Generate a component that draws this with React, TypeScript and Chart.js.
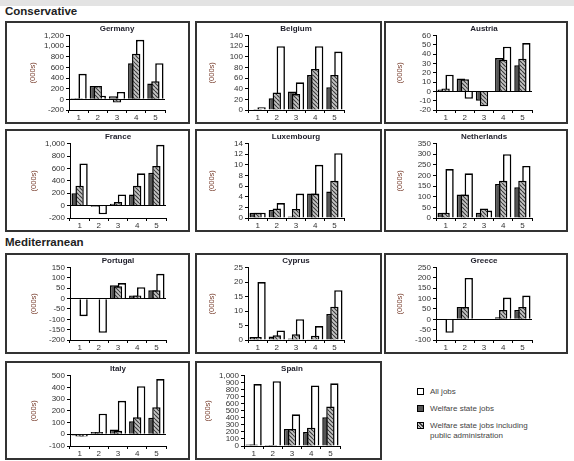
import React, { useEffect, useRef } from "react";
import { Chart, registerables } from "chart.js";
Chart.register(...registerables);

const FONT = "'Liberation Sans', Arial, Helvetica, sans-serif";

const categories = ["1", "2", "3", "4", "5"];

// Series order in each panel: welfare state jobs, welfare incl. public administration, all jobs
const germanyWelfare = [20, 250, 60, 680, 300];
const germanyPublic = [20, 250, -60, 860, 340];
const germanyAll = [480, 70, 140, 1120, 680];

const belgiumWelfare = [0, 22, 35, 66, 43];
const belgiumPublic = [2, 33, 30, 77, 66];
const belgiumAll = [5, 120, 52, 120, 110];

const austriaWelfare = [2, 14, -10, 36, 28];
const austriaPublic = [3, 13, -16, 34, 35];
const austriaAll = [18, -8, 0, 48, 52];

const franceWelfare = [200, -20, 30, 180, 530];
const francePublic = [320, -10, 60, 320, 640];
const franceAll = [680, -140, 180, 520, 980];

const luxembourgWelfare = [1, 1.5, 0.3, 4.6, 5];
const luxembourgPublic = [1, 1.8, 1.7, 4.6, 7];
const luxembourgAll = [1, 2.8, 4.6, 10, 12.2];

const netherlandsWelfare = [25, 110, 25, 160, 145];
const netherlandsPublic = [25, 110, 45, 175, 175];
const netherlandsAll = [230, 210, 35, 300, 245];

const portugalWelfare = [0, 0, 65, 15, 40];
const portugalPublic = [0, 0, 60, 15, 40];
const portugalAll = [-85, -165, 75, 55, 120];

const cyprusWelfare = [1, 1.2, 0.5, 0.3, 9];
const cyprusPublic = [1, 1.6, 2, 1.5, 11.5];
const cyprusAll = [20, 3.3, 7.2, 4.8, 17.2];

const greeceWelfare = [0, 60, -3, 10, 45];
const greecePublic = [0, 60, -3, 45, 60];
const greeceAll = [-65, 200, 3, 105, 115];

const italyWelfare = [-10, 20, 40, 110, 140];
const italyPublic = [-20, 20, 30, 145, 230];
const italyAll = [-20, 175, 285, 410, 470];

const spainWelfare = [20, 15, 240, 200, 410];
const spainPublic = [20, 15, 240, 260, 560];
const spainAll = [880, 920, 450, 860, 890];

const legendLabels = [
  "All jobs",
  "Welfare state jobs",
  "Welfare state jobs including public administration",
];

type PanelDef = {
  title: string;
  welfare: number[];
  pub: number[];
  all: number[];
  min: number;
  max: number;
  step: number;
  left: number;
  top: number;
  w: number;
  h: number;
  axis: number;
};

const ROW1 = 21, ROW2 = 129, ROW3 = 253, ROW4 = 361;
const panels: PanelDef[] = [
  { title: "Germany", welfare: germanyWelfare, pub: germanyPublic, all: germanyAll, min: -200, max: 1200, step: 200, left: 5, top: ROW1, w: 185, h: 103, axis: 64 },
  { title: "Belgium", welfare: belgiumWelfare, pub: belgiumPublic, all: belgiumAll, min: 0, max: 140, step: 20, left: 195, top: ROW1, w: 187, h: 103, axis: 53 },
  { title: "Austria", welfare: austriaWelfare, pub: austriaPublic, all: austriaAll, min: -20, max: 60, step: 10, left: 384, top: ROW1, w: 184, h: 103, axis: 52 },
  { title: "France", welfare: franceWelfare, pub: francePublic, all: franceAll, min: -200, max: 1000, step: 200, left: 5, top: ROW2, w: 185, h: 103, axis: 65 },
  { title: "Luxembourg", welfare: luxembourgWelfare, pub: luxembourgPublic, all: luxembourgAll, min: 0, max: 14, step: 2, left: 195, top: ROW2, w: 187, h: 103, axis: 53 },
  { title: "Netherlands", welfare: netherlandsWelfare, pub: netherlandsPublic, all: netherlandsAll, min: 0, max: 350, step: 50, left: 384, top: ROW2, w: 184, h: 103, axis: 52 },
  { title: "Portugal", welfare: portugalWelfare, pub: portugalPublic, all: portugalAll, min: -200, max: 150, step: 50, left: 5, top: ROW3, w: 185, h: 101, axis: 65 },
  { title: "Cyprus", welfare: cyprusWelfare, pub: cyprusPublic, all: cyprusAll, min: 0, max: 25, step: 5, left: 195, top: ROW3, w: 187, h: 101, axis: 53 },
  { title: "Greece", welfare: greeceWelfare, pub: greecePublic, all: greeceAll, min: -100, max: 250, step: 50, left: 384, top: ROW3, w: 184, h: 101, axis: 52 },
  { title: "Italy", welfare: italyWelfare, pub: italyPublic, all: italyAll, min: -100, max: 500, step: 100, left: 5, top: ROW4, w: 185, h: 99, axis: 65 },
  { title: "Spain", welfare: spainWelfare, pub: spainPublic, all: spainAll, min: 0, max: 1000, step: 100, left: 195, top: ROW4, w: 187, h: 99, axis: 49 },
];

const PLOT_W = 96;
const BORDER = 2;
const Y_W = 41;
const X_H = 12;

function makeHatch(): CanvasPattern | string {
  const c = document.createElement("canvas");
  const s = 4;
  c.width = s;
  c.height = s;
  const g = c.getContext("2d");
  if (!g) return "#aaa";
  g.fillStyle = "#c4c4c4";
  g.fillRect(0, 0, s, s);
  g.strokeStyle = "#3a3a3a";
  g.lineWidth = 1.1;
  g.beginPath();
  for (const k of [-s, 0, s]) {
    g.moveTo(k, 0);
    g.lineTo(k + s, s);
  }
  g.stroke();
  return g.createPattern(c, "repeat") || "#aaa";
}

// draw the hatched series on top of the others
const hatchOnTop = {
  id: "hatchOnTop",
  beforeDatasetDraw(chart: any, args: any) {
    if (args.index === 1 && !chart.$drawingHatch) return false;
  },
  afterDatasetsDraw(chart: any) {
    const meta = chart.getDatasetMeta(1);
    chart.$drawingHatch = true;
    const ctx = chart.ctx;
    ctx.save();
    meta.controller.draw();
    ctx.restore();
    chart.$drawingHatch = false;
  },
};

function Panel({ p }: { p: PanelDef }) {
  const ref = useRef<HTMLCanvasElement>(null);
  const innerW = p.w - BORDER * 2;
  const innerH = p.h - BORDER * 2;
  useEffect(() => {
    if (!ref.current) return;
    const hatch = makeHatch();
    const padLeft = p.axis - BORDER - Y_W;
    const padRight = innerW - (p.axis - BORDER) - PLOT_W;
    const tickFont = { family: FONT, size: 8 };
    const chart = new Chart(ref.current, {
      type: "bar",
      data: {
        labels: categories,
        datasets: [
          { label: legendLabels[1], data: p.welfare, backgroundColor: "#555555", borderColor: "#000", borderWidth: 1.5 },
          { label: legendLabels[2], data: p.pub, backgroundColor: hatch as any, borderColor: "#000", borderWidth: 1.5 },
          { label: legendLabels[0], data: p.all, backgroundColor: "#fff", borderColor: "#000", borderWidth: 1.6 },
        ],
      },
      plugins: [hatchOnTop],
      options: {
        animation: false,
        responsive: false,
        events: [],
        layout: { padding: { left: padLeft, right: padRight, top: 1, bottom: 0 } },
        datasets: { bar: { categoryPercentage: 0.62, barPercentage: 2.1 } } as any,
        plugins: {
          legend: { display: false },
          tooltip: { enabled: false },
          title: {
            display: true,
            text: p.title,
            fullSize: false,
            color: "#1e1e2a",
            font: { family: FONT, size: 8, weight: "bold" },
            padding: { top: 0, bottom: 2 },
          },
        } as any,
        scales: {
          x: {
            grid: { display: true, drawOnChartArea: false, offset: true, tickLength: 3, color: "#000" },
            border: { display: true, color: "#000", width: 1 },
            ticks: { font: tickFont, color: "#333", padding: 0, maxRotation: 0 },
            afterFit: (s: any) => { s.height = X_H; },
          },
          y: {
            min: p.min,
            max: p.max,
            ticks: { stepSize: p.step, font: tickFont, color: "#333", padding: 2, autoSkip: false },
            grid: {
              color: (ctx: any) => (ctx.tick && ctx.tick.value === 0 ? "#000" : "rgba(0,0,0,0)"),
              tickColor: "#000",
              tickLength: 3,
              lineWidth: 1,
            },
            border: { display: true, color: "#000", width: 1 },
            title: {
              display: true,
              text: "(000s)",
              color: "#7a4030",
              font: { family: FONT, size: 7.5 },
              padding: { top: 0, bottom: 2 },
            },
            afterFit: (s: any) => { s.width = Y_W; },
          },
        } as any,
      },
    });
    return () => chart.destroy();
  }, []);
  return (
    <div
      style={{
        position: "absolute",
        left: p.left,
        top: p.top,
        width: p.w,
        height: p.h,
        border: `${BORDER}px solid #333`,
        boxSizing: "border-box",
        background: "#fff",
      }}
    >
      <canvas ref={ref} width={innerW} height={innerH} style={{ display: "block" }} />
    </div>
  );
}

function LegendItem({ top, kind, lines }: { top: number; kind: number; lines: string[] }) {
  const hatchBg =
    "repeating-linear-gradient(45deg, #c4c4c4 0px, #c4c4c4 1.5px, #3a3a3a 1.5px, #3a3a3a 2.5px)";
  const bg = kind === 0 ? "#fff" : kind === 1 ? "#555555" : hatchBg;
  return (
    <div style={{ position: "absolute", left: 417, top, display: "flex", alignItems: "flex-start" }}>
      <div
        style={{
          width: 7,
          height: 7,
          border: "1.5px solid #000",
          boxSizing: "border-box",
          background: bg,
          marginTop: 1,
        }}
      />
      <div style={{ marginLeft: 6, fontFamily: FONT, fontSize: 8, lineHeight: "10px", color: "#444" }}>
        {lines.map((l, i) => (
          <div key={i}>{l}</div>
        ))}
      </div>
    </div>
  );
}

export default function App() {
  return (
    <div
      style={{
        position: "absolute",
        left: 0,
        top: 0,
        width: 574,
        height: 461,
        background: "#fff",
        overflow: "hidden",
      }}
    >
      <div style={{ position: "absolute", left: 0, top: 0, width: 574, height: 6, background: "#e3e3e3" }} />
      <div
        style={{
          position: "absolute",
          left: 5,
          top: 5,
          fontFamily: FONT,
          fontWeight: "bold",
          fontSize: 11.5,
          color: "#222",
        }}
      >
        Conservative
      </div>
      <div
        style={{
          position: "absolute",
          left: 5,
          top: 236,
          fontFamily: FONT,
          fontWeight: "bold",
          fontSize: 11.5,
          color: "#222",
        }}
      >
        Mediterranean
      </div>
      {panels.map((p) => (
        <Panel key={p.title} p={p} />
      ))}
      <LegendItem top={387} kind={0} lines={[legendLabels[0]]} />
      <LegendItem top={404} kind={1} lines={[legendLabels[1]]} />
      <LegendItem top={421} kind={2} lines={["Welfare state jobs including", "public administration"]} />
    </div>
  );
}
